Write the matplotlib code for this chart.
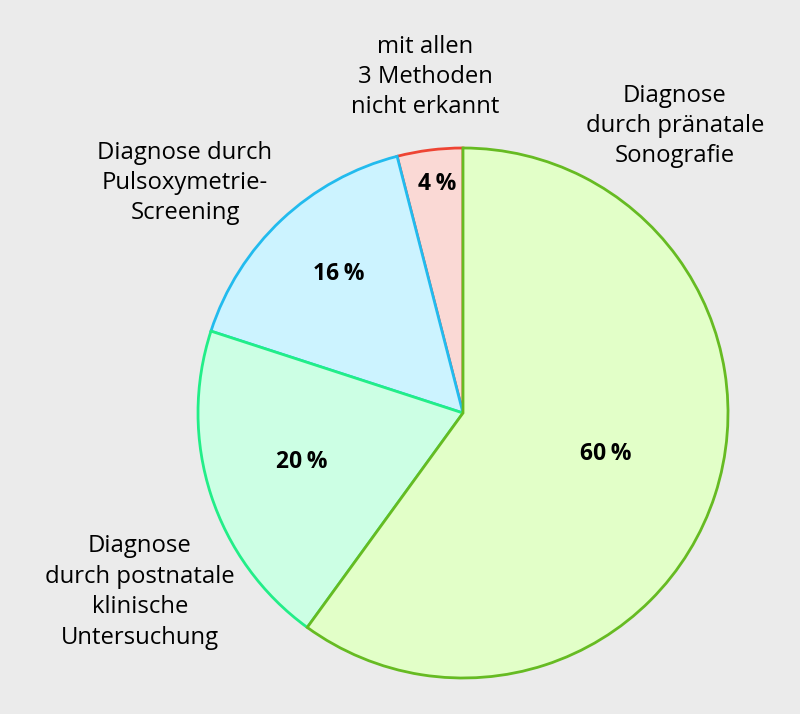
import matplotlib
matplotlib.use("Agg")
import matplotlib.pyplot as plt
import numpy as np

categories = ["Diagnose\ndurch pränatale\nSonografie",
              "Diagnose\ndurch postnatale\nklinische\nUntersuchung",
              "Diagnose durch\nPulsoxymetrie-\nScreening",
              "mit allen\n3 Methoden\nnicht erkannt"]
values = [60, 20, 16, 4]
pct_labels = ["60\u2009%", "20\u2009%", "16\u2009%", "4\u2009%"]

fills = ["#e2ffc8", "#ccffe4", "#ccf3ff", "#fad9d5"]
edges = ["#66bb22", "#22ee88", "#22bbee", "#ee4433"]

plt.rcParams['font.family'] = ['Open Sans', 'DejaVu Sans']
fig = plt.figure(figsize=(8, 7.14), dpi=100)
fig.patch.set_facecolor("#ebebeb")
cx, cy, R = 463, 413, 265
W, H = 800, 714
ax = fig.add_axes([(cx - R) / W, (H - cy - R) / H, 2 * R / W, 2 * R / H])

wedges, _ = ax.pie(values, startangle=90, counterclock=False, radius=1,
                   colors=fills, wedgeprops=dict(linewidth=2))
ax.set_xlim(-1, 1)
ax.set_ylim(-1, 1)
ax.set_aspect('equal')
ax.axis('off')
n = len(wedges)
for i, w in enumerate(wedges):
    w.set_edgecolor(edges[i])
    w.set_zorder(n - i + 1)
    w.set_clip_on(False)

pct_r = [0.555, 0.65, 0.70, 0.855]
total = sum(values)
start = 90.0
for i, v in enumerate(values):
    span = 360.0 * v / total
    mid = np.deg2rad(start - span / 2)
    start -= span
    ax.text(pct_r[i] * np.cos(mid) + 0.01, pct_r[i] * np.sin(mid) + 0.015, pct_labels[i],
            ha='center', va='center', fontsize=16.5, fontweight='bold', zorder=10)

def px(x, y):
    return ((x - cx) / R, (cy - y) / R)

label_pos = [(675, 126), (140, 592), (185, 183), (425, 77)]
for lab, (x, y) in zip(categories, label_pos):
    dx, dy = px(x, y)
    ax.text(dx, dy, lab, ha='center', va='center', fontsize=17.2,
            linespacing=1.36, zorder=10, clip_on=False)

fig.savefig("out.png", dpi=100, facecolor=fig.get_facecolor())
